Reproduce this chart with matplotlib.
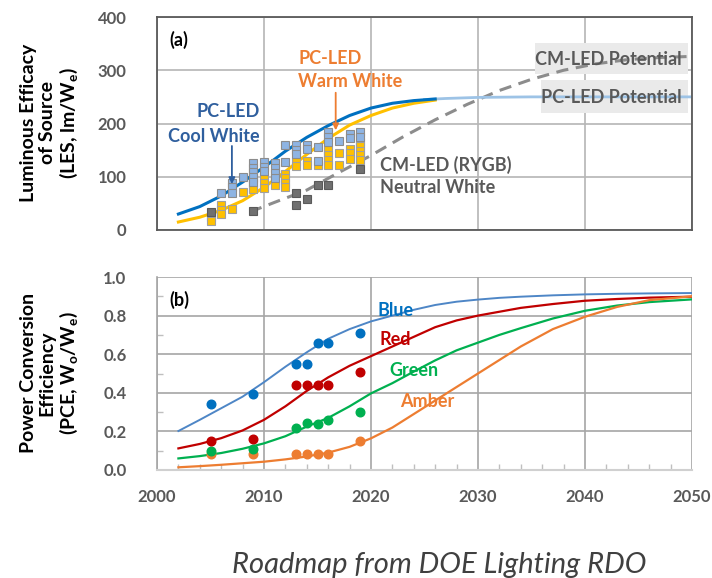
import matplotlib
matplotlib.use("Agg")
import matplotlib.pyplot as plt
from matplotlib.patches import Rectangle
from matplotlib.ticker import MultipleLocator

plt.rcParams['font.family'] = ['Lato', 'DejaVu Sans']
plt.rcParams['mathtext.fontset'] = 'custom'
plt.rcParams['mathtext.rm'] = 'Lato:bold'
plt.rcParams['mathtext.bf'] = 'Lato:bold'
plt.rcParams['mathtext.it'] = 'Lato:bold'

# ---------------- data: panel (a) LES ----------------
cw_curve_years = [2002, 2004, 2006, 2008, 2010, 2012, 2014, 2016, 2018, 2020, 2022, 2024, 2026]
cw_curve_les = [30, 44, 64, 90, 118, 148, 174, 196, 215, 229, 238, 243, 246]
ww_curve_years = [2002, 2004, 2006, 2008, 2010, 2012, 2014, 2016, 2018, 2020, 2022, 2024, 2026]
ww_curve_les = [15, 24, 37, 55, 80, 110, 142, 172, 197, 215, 229, 238, 244]
pc_pot_years = [2025, 2027, 2030, 2035, 2040, 2050]
pc_pot_les = [245, 247, 249, 250, 250, 250]
cm_curve_years = [2008.7, 2011, 2014, 2017, 2020, 2023, 2026, 2029, 2032, 2035, 2038, 2041, 2044, 2047, 2050]
cm_curve_les = [34, 52, 75, 108, 140, 175, 207, 236, 262, 283, 300, 312, 320, 324, 326]

cw_x = [2006, 2007, 2007, 2007, 2008, 2009, 2009, 2009, 2009, 2009, 2010, 2010, 2010,
        2011, 2011, 2011, 2011, 2012, 2012, 2013, 2013, 2013, 2014, 2014, 2015, 2015,
        2016, 2016, 2016, 2017, 2018, 2018, 2019, 2019]
cw_y = [70, 89, 80, 70, 100, 126, 117, 108, 99, 91, 128, 119, 110,
        125, 116, 107, 98, 159, 128, 159, 150, 142, 159, 152, 155, 130,
        184, 175, 166, 167, 181, 172, 184, 175]
ww_x = [2005, 2005, 2006, 2006, 2006, 2007, 2008, 2009, 2009, 2009, 2010, 2010, 2010,
        2011, 2011, 2011, 2012, 2012, 2012, 2012, 2013, 2013, 2014, 2014, 2015,
        2016, 2016, 2016, 2016, 2017, 2017, 2018, 2018, 2018, 2019, 2019, 2019, 2019, 2019]
ww_y = [25, 17, 47, 38, 30, 39, 72, 95, 86, 77, 97, 88, 78,
        105, 94, 84, 106, 97, 89, 81, 128, 120, 130, 122, 122,
        150, 141, 131, 123, 144, 122, 153, 144, 134, 166, 157, 149, 140, 131]
cm_x = [2005, 2009, 2013, 2013, 2014, 2015, 2016, 2019]
cm_y = [34, 36, 69, 47, 58, 84, 84, 114]

# ---------------- data: panel (b) PCE ----------------
curve_years = [2002, 2004, 2006, 2008, 2010, 2012, 2014, 2016, 2018, 2020, 2022, 2024,
               2026, 2028, 2030, 2032, 2034, 2037, 2040, 2043, 2046, 2050]
blue_curve = [0.202, 0.26, 0.32, 0.38, 0.455, 0.535, 0.61, 0.68, 0.73, 0.77, 0.80, 0.83,
              0.855, 0.872, 0.883, 0.892, 0.898, 0.905, 0.91, 0.913, 0.915, 0.917]
red_curve = [0.112, 0.135, 0.165, 0.205, 0.26, 0.33, 0.41, 0.48, 0.54, 0.59, 0.64, 0.69,
             0.74, 0.775, 0.80, 0.82, 0.84, 0.86, 0.877, 0.886, 0.893, 0.898]
green_curve = [0.06, 0.072, 0.088, 0.11, 0.138, 0.175, 0.225, 0.27, 0.33, 0.397, 0.45, 0.51,
               0.568, 0.62, 0.66, 0.70, 0.735, 0.785, 0.825, 0.852, 0.87, 0.884]
amber_curve = [0.014, 0.02, 0.027, 0.035, 0.043, 0.055, 0.07, 0.09, 0.12, 0.164, 0.22, 0.29,
               0.36, 0.43, 0.50, 0.57, 0.64, 0.73, 0.794, 0.845, 0.88, 0.90]

pt_years = [2005, 2009, 2013, 2014, 2015, 2016, 2019]
blue_pts = [0.34, 0.394, 0.55, 0.55, 0.656, 0.656, 0.708]
red_pts = [0.15, 0.16, 0.439, 0.439, 0.439, 0.439, 0.508]
green_pts = [0.10, 0.11, 0.22, 0.242, 0.238, 0.259, 0.299]
amber_pts = [0.081, 0.081, 0.081, 0.081, 0.081, 0.081, 0.15]

x_ticks = [2000, 2010, 2020, 2030, 2040, 2050]
les_ticks = [0, 100, 200, 300, 400]
pce_ticks = [0.0, 0.2, 0.4, 0.6, 0.8, 1.0]

# ---------------- styles ----------------
C_BLUE = '#0070C0'
C_YEL = '#FFC000'
C_ORANGE = '#ED7D31'
C_DKBLUE = '#2F5F9E'
C_TXTGRAY = '#595959'
C_RED = '#C00000'
C_GREEN = '#00B050'
C_LBLUE = '#4E86C6'

fig = plt.figure(figsize=(7.12, 5.78), dpi=100)
W, H = 712, 578
ax1 = fig.add_axes([157 / W, 1 - 230 / H, 535 / W, 213 / H])
ax2 = fig.add_axes([157 / W, 1 - 470 / H, 535 / W, 193 / H])

tick_kw = dict(fontsize=12, fontweight='bold', color=C_TXTGRAY)

# ---- panel (a) ----
ax1.set_xlim(2000, 2050)
ax1.set_ylim(0, 400)
ax1.set_xticks(x_ticks)
ax1.set_yticks(les_ticks)
ax1.set_xticklabels([])
ax1.set_yticklabels([str(v) for v in les_ticks], **tick_kw)
ax1.tick_params(axis='both', length=0)
ax1.tick_params(axis='y', pad=22)
ax1.grid(True, color='#B5B5B5', lw=1.2)
ax1.set_axisbelow(True)
for s in ax1.spines.values():
    s.set_color('#595959')
    s.set_linewidth(1.3)

ax1.add_patch(Rectangle((2035.3, 293), 14.3, 59, facecolor='#EAEAEA', edgecolor='none', zorder=1.5))
ax1.add_patch(Rectangle((2035.9, 219), 13.7, 62, facecolor='#EAEAEA', edgecolor='none', zorder=1.5))

ax1.plot(cm_curve_years, cm_curve_les, color='#8C8C8C', lw=2.2, ls=(0, (4, 2.5)), zorder=2)
ax1.plot(pc_pot_years, pc_pot_les, color='#9DC3E6', lw=2.0, zorder=2)
ax1.plot(ww_curve_years, ww_curve_les, color=C_YEL, lw=2.2, zorder=3)
ax1.plot(cw_curve_years, cw_curve_les, color=C_BLUE, lw=2.2, zorder=3)

ax1.plot(ww_x, ww_y, ls='none', marker='s', ms=5.6, mfc=C_YEL, mec='#A0A0A0', mew=0.8, zorder=4)
ax1.plot(cw_x, cw_y, ls='none', marker='s', ms=5.6, mfc='#8EB4E3', mec='#8C8C8C', mew=0.8, zorder=4)
ax1.plot(cm_x, cm_y, ls='none', marker='s', ms=5.6, mfc='#707070', mec='#5A5A5A', mew=0.8, zorder=4)

ann_kw = dict(fontsize=13, fontweight='bold')
ax1.text(2001.2, 357, '(a)', color='black', va='center', ha='left', **ann_kw)
ax1.text(2013.2, 323, 'PC-LED', color=C_ORANGE, va='center', ha='left', **ann_kw)
ax1.text(2013.2, 278, 'Warm White', color=C_ORANGE, va='center', ha='left', **ann_kw)
ax1.text(2009.6, 222, 'PC-LED', color=C_DKBLUE, va='center', ha='right', **ann_kw)
ax1.text(2009.6, 176.5, 'Cool White', color=C_DKBLUE, va='center', ha='right', **ann_kw)
ax1.text(2020.8, 122, 'CM-LED (RYGB)', color=C_TXTGRAY, va='center', ha='left', **ann_kw)
ax1.text(2020.8, 79, 'Neutral White', color=C_TXTGRAY, va='center', ha='left', **ann_kw)
ax1.text(2049.0, 320, 'CM-LED Potential', color=C_TXTGRAY, va='center', ha='right', zorder=5, **ann_kw)
ax1.text(2049.0, 249, 'PC-LED Potential', color=C_TXTGRAY, va='center', ha='right', zorder=5, **ann_kw)

ax1.annotate('', xy=(2016.7, 182), xytext=(2016.7, 263),
             arrowprops=dict(arrowstyle='-|>', color=C_ORANGE, lw=1.3, mutation_scale=9), zorder=5)
ax1.annotate('', xy=(2007.0, 81), xytext=(2007.0, 163),
             arrowprops=dict(arrowstyle='-|>', color=C_DKBLUE, lw=1.3, mutation_scale=9), zorder=5)

# ---- panel (b) ----
ax2.set_xlim(2000, 2050)
ax2.set_ylim(0, 1.0)
ax2.set_xticks(x_ticks)
ax2.set_yticks(pce_ticks)
ax2.set_xticklabels([str(v) for v in x_ticks], **tick_kw)
ax2.set_yticklabels(['%.1f' % v for v in pce_ticks], **tick_kw)
ax2.xaxis.set_minor_locator(MultipleLocator(2))
ax2.yaxis.set_minor_locator(MultipleLocator(0.1))
ax2.tick_params(axis='both', which='major', length=0)
ax2.tick_params(axis='y', which='major', pad=22)
ax2.tick_params(axis='x', which='major', pad=14)
ax2.tick_params(axis='both', which='minor', direction='in', length=4, color='#BFBFBF', width=1)
ax2.grid(True, which='major', color='#A6A6A6', lw=1.2)
ax2.set_axisbelow(True)
ax2.spines['top'].set_visible(False)
ax2.spines['right'].set_visible(False)
ax2.spines['left'].set_color('#A6A6A6')
ax2.spines['bottom'].set_color('#D0D0D0')
ax2.spines['left'].set_linewidth(1.2)
ax2.spines['bottom'].set_linewidth(1.5)

ax2.plot(curve_years, blue_curve, color=C_LBLUE, lw=1.4, zorder=3)
ax2.plot(curve_years, red_curve, color=C_RED, lw=1.6, zorder=3)
ax2.plot(curve_years, green_curve, color=C_GREEN, lw=1.6, zorder=3)
ax2.plot(curve_years, amber_curve, color=C_ORANGE, lw=1.6, zorder=3)

ax2.plot(pt_years, amber_pts, ls='none', marker='o', ms=6.2, color=C_ORANGE, zorder=4)
ax2.plot(pt_years, green_pts, ls='none', marker='o', ms=6.2, color=C_GREEN, zorder=4)
ax2.plot(pt_years, red_pts, ls='none', marker='o', ms=6.2, color=C_RED, zorder=4)
ax2.plot(pt_years, blue_pts, ls='none', marker='o', ms=6.2, color=C_BLUE, zorder=4)

ax2.text(2001.2, 0.88, '(b)', color='black', va='center', ha='left', **ann_kw)
ax2.text(2020.6, 0.829, 'Blue', color=C_BLUE, va='center', ha='left', **ann_kw)
ax2.text(2020.8, 0.674, 'Red', color=C_RED, va='center', ha='left', **ann_kw)
ax2.text(2021.7, 0.518, 'Green', color=C_GREEN, va='center', ha='left', **ann_kw)
ax2.text(2022.7, 0.357, 'Amber', color=C_ORANGE, va='center', ha='left', **ann_kw)

# ---- axis titles ----
lab_kw = dict(fontsize=14, fontweight='bold', color='black', rotation=90,
              ha='center', va='center', multialignment='center', linespacing=1.15)
fig.text(50 / W, 1 - 123 / H, 'Luminous Efficacy\nof Source\n(LES, lm/W$_\\mathbf{e}$)', **lab_kw)
fig.text(50 / W, 1 - 373 / H, 'Power Conversion\nEfficiency\n(PCE, W$_\\mathbf{o}$/W$_\\mathbf{e}$)', **lab_kw)

fig.text(439 / W, 1 - 565 / H, 'Roadmap from DOE Lighting RDO', fontsize=21, style='italic',
         color='#404040', ha='center', va='center')

fig.savefig('out.png', dpi=100)
